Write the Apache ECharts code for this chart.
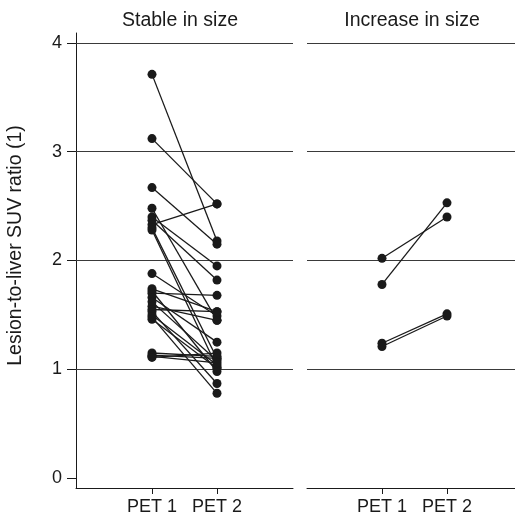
<!DOCTYPE html>
<html>
<head>
<meta charset="utf-8">
<script src="https://cdn.jsdelivr.net/npm/echarts@6/dist/echarts.min.js"></script>
<style>
  html, body { margin: 0; padding: 0; background: #fff; }
  #chart { width: 515px; height: 521px; }
</style>
</head>
<body>
<div id="chart"></div>
<script>
// panel headings and axis texts
const panelTitles = ['Stable in size', 'Increase in size']
const timepoints = ['PET 1', 'PET 2']
const yTicks = [0, 1, 2, 3, 4]
const gridValues = [1, 2, 3, 4]

// lesion pairs, PET 1 -> PET 2 (same index = same lesion)
const stablePet1 = [3.71, 3.12, 2.67, 2.48, 2.40, 2.37, 2.33, 2.30, 2.28, 1.88, 1.74, 1.72, 1.70, 1.66, 1.62, 1.58, 1.55, 1.53, 1.50, 1.48, 1.46, 1.15, 1.13, 1.12, 1.11]
const stablePet2 = [2.18, 2.52, 2.15, 1.45, 1.95, 1.82, 2.52, 1.10, 1.02, 1.49, 1.53, 0.98, 1.68, 1.25, 1.08, 1.45, 1.53, 0.87, 1.04, 0.78, 1.01, 1.12, 1.10, 1.06, 1.15]
const increasePet1 = [2.02, 1.78, 1.24, 1.21]
const increasePet2 = [2.40, 2.53, 1.51, 1.49]

const font = 'Liberation Sans, Arial, Helvetica, sans-serif'
const ink = '#1a1a1a'

function pairSeries(pet1, pet2, panel) {
  const out = []
  for (let i = 0; i < pet1.length; i++) {
    const s = {
      type: 'line',
      xAxisIndex: panel,
      yAxisIndex: panel,
      data: [[1, pet1[i]], [2, pet2[i]]],
      symbol: 'circle',
      symbolSize: 9,
      itemStyle: { color: ink },
      lineStyle: { color: ink, width: 1.3 },
      silent: true,
      z: 3
    }
    if (i === 0) {
      // horizontal reference lines of the panel
      s.markLine = {
        silent: true,
        symbol: ['none', 'none'],
        label: { show: false },
        lineStyle: { color: '#3a3a3a', width: 1, type: 'solid' },
        data: gridValues.map(v => ({ yAxis: v })),
        z: 1
      }
    }
    out.push(s)
  }
  return out
}

function xAxisFor(panel, min, max) {
  return {
    type: 'value',
    gridIndex: panel,
    min: min,
    max: max,
    axisLine: { show: true, onZero: false, lineStyle: { color: ink, width: 1 } },
    axisTick: { show: true, customValues: [1, 2], length: 6, lineStyle: { color: ink } },
    axisLabel: {
      customValues: [1, 2],
      formatter: v => timepoints[Math.round(v) - 1],
      fontSize: 18, fontFamily: font, color: ink, margin: 10
    },
    splitLine: { show: false }
  }
}

const chart = echarts.init(document.getElementById('chart'))
chart.setOption({
  animation: false,
  backgroundColor: '#fff',
  title: [
    { text: panelTitles[0], left: 180, top: 11, padding: 0, textAlign: 'center',
      textStyle: { fontSize: 19.5, fontWeight: 'normal', fontFamily: font, color: ink } },
    { text: panelTitles[1], left: 412, top: 11, padding: 0, textAlign: 'center',
      textStyle: { fontSize: 19.5, fontWeight: 'normal', fontFamily: font, color: ink } }
  ],
  grid: [
    { left: 76, width: 217, top: 33, bottom: 33 },
    { left: 307, width: 208, top: 33, bottom: 33 }
  ],
  xAxis: [
    xAxisFor(0, -0.1692, 3.1692),
    xAxisFor(1, -0.1538, 3.0462)
  ],
  yAxis: [
    {
      type: 'value', gridIndex: 0, min: -0.09, max: 4.09,
      axisLine: { show: true, onZero: false, lineStyle: { color: ink, width: 1 } },
      axisTick: { show: true, customValues: yTicks, length: 9, lineStyle: { color: ink } },
      axisLabel: { customValues: yTicks, fontSize: 18, fontFamily: font, color: ink, margin: 14 },
      splitLine: { show: false },
      name: 'Lesion-to-liver SUV ratio (1)',
      nameLocation: 'middle',
      nameGap: 50,
      nameTextStyle: { fontSize: 19.5, fontFamily: font, color: ink, padding: [0, 0, 0, 30] }
    },
    { type: 'value', gridIndex: 1, min: -0.09, max: 4.09, show: false }
  ],
  series: pairSeries(stablePet1, stablePet2, 0).concat(pairSeries(increasePet1, increasePet2, 1))
})
</script>
</body>
</html>
